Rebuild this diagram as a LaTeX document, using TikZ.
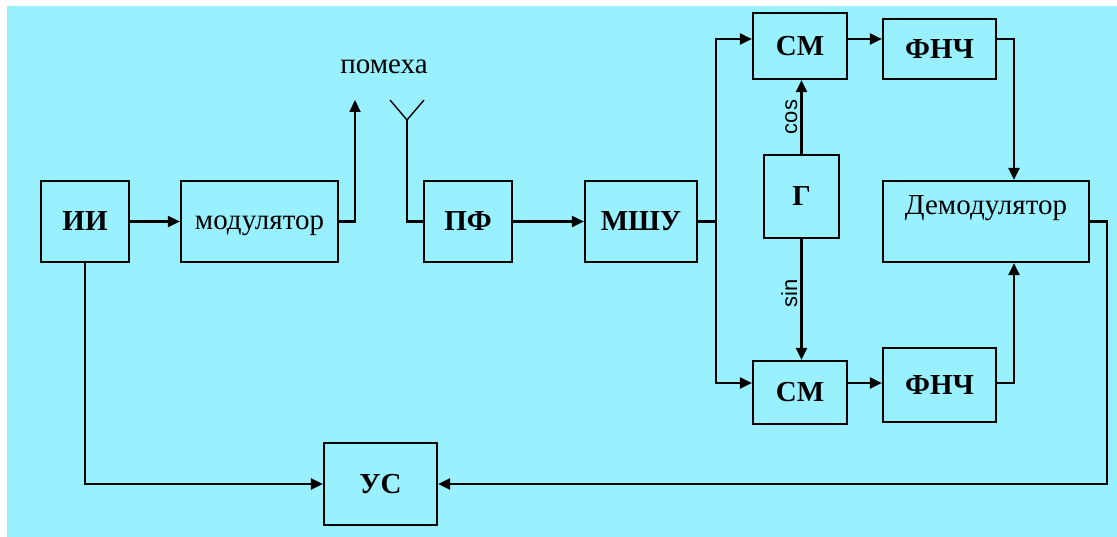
\documentclass[tikz,border=0pt]{standalone}
\usepackage{fontspec}
\setmainfont{Liberation Serif}
\newfontfamily\labelsans{Liberation Sans}
\usepackage{xcolor}
\usepackage{tikz}
\usetikzlibrary{
	arrows.meta,
	calc
}
\definecolor{LightCyan}{RGB}{153,240,255}

\begin{document}
\begin{tikzpicture}[x=1pt, y=-1pt,
		blk/.style={draw, line width=2.2pt, inner sep=0pt, font=\fontsize{29}{32}\selectfont},
		blkb/.style={blk, font=\fontsize{29}{32}\selectfont\bfseries},
		arr/.style={line width=2.2pt, -{Triangle[length=12pt, width=11pt]}},
		ln/.style={line width=2.2pt},
		lbl/.style={font=\labelsans\fontsize{22}{24}\selectfont, inner sep=3pt}]
		\useasboundingbox (0,0) rectangle (1117,537);
		\fill[LightCyan] (7,6) rectangle (1117,537);
		
		\coordinate (Y1) at (0,39);
		\coordinate (Y2) at (0,383);
		\coordinate (X1) at (1014,0);
		\coordinate (X2) at (1107,484);
		\coordinate (S) at (716,221.5);
		\coordinate (T) at (355,100);
		\coordinate (ANT) at (407,120);
		
		\node[blkb, minimum width=88pt, minimum height=81pt] (II) at (85,221.5) {ИИ};
		\node[blk, minimum width=157pt, minimum height=81pt, text height=22pt] (MOD) at (259.5,221.5) {модулятор};
		\node[blkb, minimum width=88pt, minimum height=81pt] (PF) at (468,221.5) {ПФ};
		\node[blkb, minimum width=112pt, minimum height=81pt] (MSHU) at (641,221.5) {МШУ};
		\node[blkb, minimum width=94pt, minimum height=66pt] (SM1) at (800,46) {СМ};
		\node[blkb, minimum width=113pt, minimum height=60pt] (LPF1) at (939.5,49) {ФНЧ};
		\node[blkb, minimum width=75pt, minimum height=83pt] (G) at (801.5,196.5) {Г};
		\node[blk, minimum width=206pt, minimum height=81pt, text depth=32pt] (DEM) at (986,221.5) {Демодулятор};
		\node[blkb, minimum width=94pt, minimum height=63pt] (SM2) at (800,392.5) {СМ};
		\node[blkb, minimum width=113pt, minimum height=74pt] (LPF2) at (939.5,385) {ФНЧ};
		\node[blkb, minimum width=113pt, minimum height=82pt] (US) at (380.5,484) {УС};
		\node[font=\fontsize{29}{32}\selectfont] (NOISE) at (384,67) {помеха};
		
		\draw[arr] (II) -- (MOD);
		\draw[arr] (MOD.east) -| (T);
		\draw[line width=1.4pt] (390,100) -- (ANT) -- (424,100);
		\draw[ln] (ANT) |- (PF.west);
		\draw[arr] (PF) -- (MSHU);
		\draw[ln] (MSHU.east) -- (S);
		\draw[arr] (S) |- (SM1.west |- Y1);
		\draw[arr] (S) |- (SM2.west |- Y2);
		\draw[arr] (SM1.east |- Y1) -- (LPF1.west |- Y1);
		\draw[arr] (SM2.east |- Y2) -- (LPF2.west |- Y2);
		\draw[arr] (G.north) -- (G.north |- SM1.south) node[lbl, midway, above, rotate=90] {cos};
		\draw[arr] (G.south) -- (G.south |- SM2.north) node[lbl, pos=0.45, above, rotate=90] {sin};
		\draw[arr] (LPF1.east |- Y1) -| (X1 |- DEM.north);
		\draw[arr] (LPF2.east |- Y2) -| (X1 |- DEM.south);
		\draw[arr] (DEM.east) -| (X2) -- (US.east);
		\draw[arr] (II.south) |- (US.west);
	\end{tikzpicture}
\end{document}
